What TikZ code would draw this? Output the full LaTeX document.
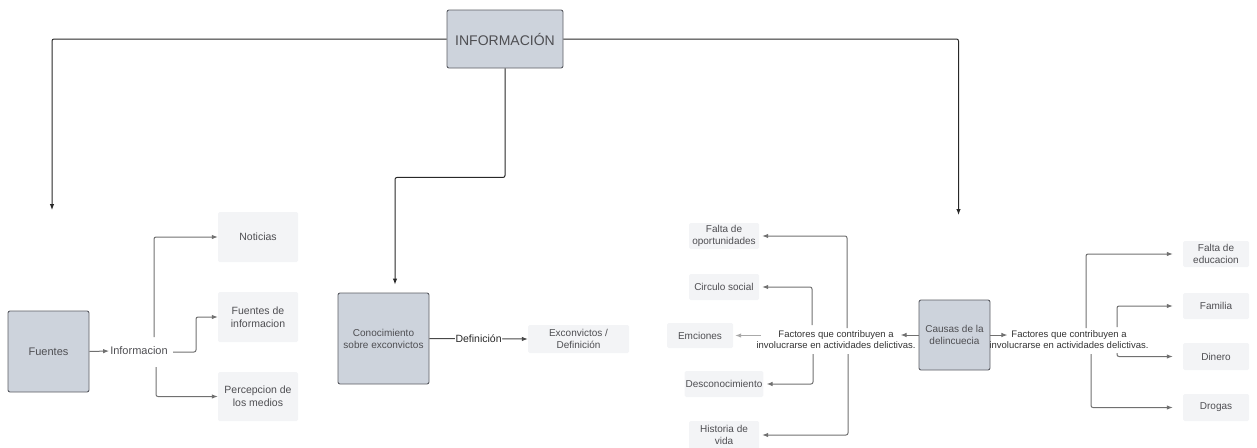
\documentclass[tikz,border=0pt]{standalone}
\usepackage{fontspec}
\setmainfont{Liberation Sans}
\usetikzlibrary{arrows.meta}

\begin{document}
\begin{tikzpicture}[x=1pt,y=-1pt,>={Latex[length=6pt,width=4.5pt]}]
% ------------------------------------------------ map colors
\definecolor{mp_box}{RGB}{205,211,220}   %#CDD3DC
\definecolor{mp_edge}{RGB}{92,94,100}    %#5C5E64
\definecolor{mp_light}{RGB}{243,244,246} %#F3F4F6
\definecolor{mp_text}{RGB}{78,78,82}     %#4E4E52
\definecolor{mp_line}{RGB}{112,112,112}  %#707070
\definecolor{mp_top}{RGB}{40,40,40}      %#282828

\tikzset{
  mainbox/.style={draw=mp_edge,line width=0.9pt,fill=mp_box,rounded corners=2pt,
    text=mp_text,align=center,font=\fontsize{10}{12}\selectfont,inner sep=1pt},
  leafbox/.style={fill=mp_light,rounded corners=1.5pt,text=mp_text,align=center,
    font=\fontsize{10}{12.5}\selectfont,inner sep=1pt},
  plain/.style={text=mp_text,align=center,inner sep=1pt},
  topwire/.style={draw=mp_top,line width=1pt,rounded corners=2pt,->},
  wire/.style={draw=mp_line,line width=1pt,rounded corners=2pt,->},
}

\useasboundingbox (0,0) rectangle (1257,447);

% ---------------------------------------------  top box
\node[mainbox,minimum width=116pt,minimum height=58pt,font=\fontsize{14}{16}\selectfont] (info) at (505,39) {INFORMACIÓN};

% ---------------------------------------------  Fuentes
\node[mainbox,minimum width=81pt,minimum height=81pt,font=\fontsize{11}{13}\selectfont] (fuentes) at (48.5,351.5) {Fuentes};
\node[plain,font=\fontsize{11}{13}\selectfont] (informacion) at (139,351) {Informacion};
\node[leafbox,minimum width=80pt,minimum height=50pt,font=\fontsize{10.5}{13}\selectfont] (noticias) at (258,237) {Noticias};
\node[leafbox,minimum width=80pt,minimum height=50pt,font=\fontsize{10.5}{13}\selectfont] (fdi) at (258,317) {Fuentes de\\informacion};
\node[leafbox,minimum width=80pt,minimum height=49pt,font=\fontsize{10.5}{13}\selectfont] (percep) at (258,396.5) {Percepcion de\\los medios};

% ---------------------------------------------  Conocimiento
\node[mainbox,minimum width=91pt,minimum height=91pt] (conoc) at (383.5,338.5) {Conocimiento\\sobre exconvictos};
\node[leafbox,minimum width=101pt,minimum height=28pt] (excon) at (578.5,339) {Exconvictos /\\Definición};

% ---------------------------------------------  Causas
\node[mainbox,minimum width=71pt,minimum height=70pt] (causas) at (954.5,335) {Causas de la\\delincuecia};
\node[plain,font=\fontsize{9.5}{11.5}\selectfont,text=black!80] (factR) at (1069,339.5) {Factores que contribuyen a\\involucrarse en actividades delictivas.};
\node[plain,font=\fontsize{9.5}{11.5}\selectfont,text=black!80] (factL) at (836,339.5) {Factores que contribuyen a\\involucrarse en actividades delictivas.};

\node[leafbox,minimum width=66pt,minimum height=26pt] (faltaedu) at (1216,254) {Falta de\\educacion};
\node[leafbox,minimum width=66pt,minimum height=26pt] (familia) at (1216,306) {Familia};
\node[leafbox,minimum width=66pt,minimum height=27pt] (dinero) at (1216,356.5) {Dinero};
\node[leafbox,minimum width=66pt,minimum height=27pt] (drogas) at (1216,407.5) {Drogas};

\node[leafbox,minimum width=70pt,minimum height=26pt] (faltaop) at (724,236) {Falta de\\oportunidades};
\node[leafbox,minimum width=70pt,minimum height=26pt] (circulo) at (724,287) {Circulo social};
\node[leafbox,minimum width=66pt,minimum height=25pt] (emciones) at (700,335.5) {Emciones};
\node[leafbox,minimum width=70pt,minimum height=26pt] (descon) at (724,384) {Desconocimiento};
\node[leafbox,minimum width=70pt,minimum height=28pt] (historia) at (724,435) {Historia de\\vida};

% ---------------------------------------------  free ends
\coordinate (endL) at (52,210);
\coordinate (endR) at (958.5,215);
\coordinate (infUp) at (154,337);
\coordinate (infMid) at (173,352);
\coordinate (infDn) at (156,367);
\coordinate (frUp) at (1086,328);
\coordinate (frUp2) at (1117,327);
\coordinate (frDn2) at (1117,353);
\coordinate (frDn) at (1091,354);
\coordinate (flUp) at (847,328);
\coordinate (flUp2) at (812,325);
\coordinate (flEm) at (761,335.5);
\coordinate (flDn2) at (813,354);
\coordinate (flDn) at (848,354);

% ---------------------------------------------  top connectors
\draw[topwire] (info.west) -| (endL);
\draw[topwire] (info.east) -| (endR);
\draw[topwire,shorten >=8pt] (info.south) -- ++(0,109) -| ([xshift=11.5pt]conoc.north);

% ---------------------------------------------  Fuentes connectors
\draw[wire] (fuentes.east) -- (informacion.west);
\draw[wire] (infUp) |- (noticias.west);
\draw[wire] (infMid) -- ++(23,0) |- (fdi.west);
\draw[wire] (infDn) |- (percep.west);

% ---------------------------------------------  Conocimiento connector
\draw[wire,draw=mp_top!85] (conoc.east) -- node[fill=white,inner sep=0.5pt,text=mp_top,font=\fontsize{10.5}{12}\selectfont] {Definición} (excon.west);

% ---------------------------------------------  Causas connectors
\draw[wire] (causas.east) -- ++(17,0);
\draw[wire] (causas.west) -- ++(-18,0);
\draw[wire,shorten >=10pt] (frUp) |- (faltaedu.west);
\draw[wire,shorten >=10pt] (frUp2) |- (familia.west);
\draw[wire,shorten >=10pt] (frDn2) |- (dinero.west);
\draw[wire,shorten >=10pt] (frDn) |- (drogas.west);
\draw[wire,shorten >=3pt] (flUp) |- (faltaop.east);
\draw[wire,shorten >=3pt] (flUp2) |- (circulo.east);
\draw[wire,draw=mp_line!60,shorten >=2pt] (flEm) -- (emciones.east);
\draw[wire,shorten >=3pt] (flDn2) |- (descon.east);
\draw[wire,shorten >=3pt] (flDn) |- (historia.east);

\end{tikzpicture}
\end{document}
